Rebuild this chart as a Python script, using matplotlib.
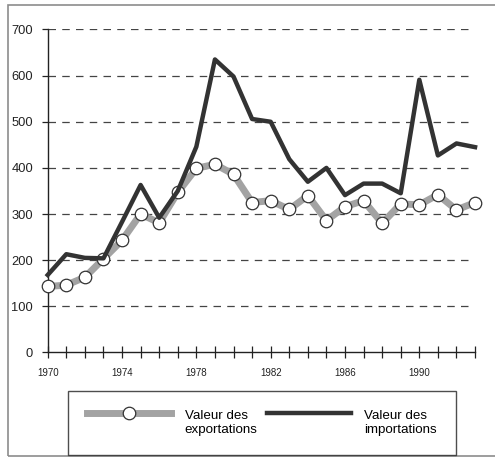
import matplotlib

matplotlib.use("Agg")
import matplotlib.pyplot as plt
from matplotlib.legend_handler import HandlerLine2D
from matplotlib.patches import Rectangle

plt.rcParams["font.family"] = ["Liberation Sans", "DejaVu Sans"]

years = list(range(1970, 1994))
exportations = [143, 146, 163, 203, 243, 300, 281, 347, 399, 408, 386, 325,
                329, 310, 340, 286, 316, 329, 280, 322, 320, 342, 309, 325]
importations = [168, 213, 205, 204, 283, 363, 292, 350, 446, 635, 598, 506,
                500, 419, 370, 400, 341, 366, 366, 345, 591, 427, 453, 445]
y_ticks = [0, 100, 200, 300, 400, 500, 600, 700]
x_labels = [1970, 1974, 1978, 1982, 1986, 1990]


class HandlerTopLine(HandlerLine2D):
    # aligne le symbole sur la première ligne du libellé
    def create_artists(self, legend, orig_handle, xdescent, ydescent,
                       width, height, fontsize, trans):
        arts = super().create_artists(legend, orig_handle, xdescent, ydescent,
                                      width, height, fontsize, trans)
        for a in arts:
            a.set_ydata([y + 0.75 * fontsize for y in a.get_ydata()])
        return arts


fig = plt.figure(figsize=(4.95, 4.57), dpi=100)
# cadre extérieur
fig.patches.append(Rectangle((8 / 495, 1.5 / 457), 1.2, 450.5 / 457,
                             transform=fig.transFigure, fill=False,
                             edgecolor="#8c8c8c", linewidth=1.2))

ax = fig.add_axes([0.0964, 0.2287, 0.8633, 0.7068])
ax.set_xlim(1970, 1993)
ax.set_ylim(0, 700)

for v in y_ticks[1:]:
    ax.hlines(v, 1970, 1992.75, colors="#444444", linestyles=(0, (6, 5)),
              linewidth=0.9, zorder=1)

l_exp, = ax.plot(years, exportations, color="#a3a3a3", linewidth=5, marker="o",
                 markersize=9, markerfacecolor="white", markeredgecolor="#333333",
                 markeredgewidth=0.9, clip_on=False, zorder=3,
                 label="Valeur des\nexportations")
l_imp, = ax.plot(years, importations, color="#333333", linewidth=3.2, clip_on=False,
                 zorder=4, label="Valeur des\nimportations")

for s in ["top", "right"]:
    ax.spines[s].set_visible(False)
for s in ["left", "bottom"]:
    ax.spines[s].set_color("#222222")
    ax.spines[s].set_linewidth(1.0)

ax.set_yticks(y_ticks)
ax.set_xticks(years, minor=True)
ax.set_xticks(x_labels)
ax.tick_params(axis="y", length=4, width=0.9, labelsize=9.3, colors="#222222", pad=6.5)
ax.tick_params(axis="x", which="both", direction="inout", length=9, width=0.9,
               labelsize=7, colors="#222222", pad=7)

leg = fig.legend(handles=[l_exp, l_imp], loc="lower left",
                 bbox_to_anchor=(0.1374, 0.004, 0.784, 0.145),
                 mode="expand", ncol=2, numpoints=1, fontsize=9.6,
                 handlelength=6.3, handletextpad=1.0, frameon=True, fancybox=False,
                 borderpad=1.45, borderaxespad=0, columnspacing=1.0,
                 labelspacing=0.3,
                 handler_map={l_exp: HandlerTopLine(), l_imp: HandlerTopLine()})
leg.get_frame().set_edgecolor("#222222")
leg.get_frame().set_linewidth(1.0)

fig.savefig("out.png", dpi=100)
